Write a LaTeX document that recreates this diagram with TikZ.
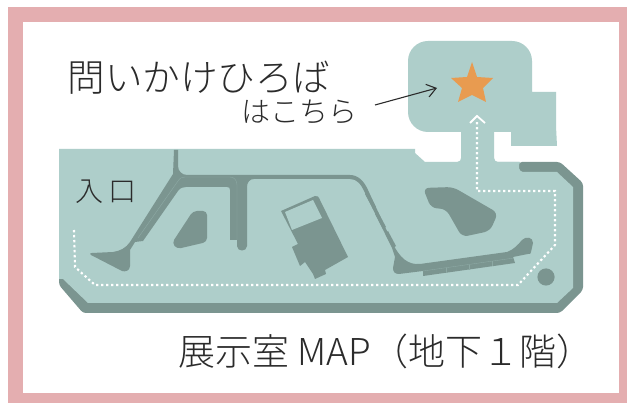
\documentclass[tikz,border=0pt]{standalone}
\usepackage{fontspec}
\usetikzlibrary{arrows.meta}
\newfontfamily\jp[UprightFont=* Light]{Noto Sans CJK JP}
\definecolor{framepink}{HTML}{E4AEB0}
\definecolor{floorc}{HTML}{AECECA}
\definecolor{wallc}{HTML}{7B9590}
\definecolor{starc}{HTML}{E89B50}
\definecolor{inkc}{HTML}{2B2B2B}
\tikzset{
  wallshape/.style={fill=wallc,draw=none},
  floorshape/.style={fill=floorc,draw=none},
  dotpath/.style={draw=white,line width=2.1pt,dash pattern=on 2.3pt off 2.7pt},
  seam/.style={draw=floorc!35!wallc,line width=0.4pt},
  label/.style={inner sep=0pt,text=inkc,font=\jp,anchor=center}
}
\begin{document}
\begin{tikzpicture}[x=1pt,y=-1pt]
\useasboundingbox (0,0) rectangle (627,403);
\fill[white] (0,0) rectangle (627,403);
\fill[framepink] (8,7) rectangle (627,403);
\fill[white] (23,22) rectangle (619,393);
% room
\fill[floorshape] (428,41) -- (512,41) arc[start angle=-90,end angle=0,radius=20] -- (532,92) -- (556,92) -- (556,126) -- (557,146) -- (511,146) -- (511,132) -- (494,132) -- (494,158) arc[start angle=180,end angle=90,radius=4] -- (520,162) -- (520,175) -- (461,175) -- (461,132) -- (428,132) arc[start angle=90,end angle=180,radius=20] -- (408,61) arc[start angle=180,end angle=270,radius=20] -- cycle;
% floor dark
\fill[wallshape,rounded corners=3pt] (59,275) -- (59,285) -- (83,313) -- (560,313) -- (583,290) -- (583,183) -- (560,162) -- (519,162) -- (519,172) -- (540,180) -- (540,290) -- (100,300) -- cycle;
% floor light
\fill[floorshape] (59,149) -- (415,149) -- (415,153) -- (425,162) -- (457,162) .. controls (460,162) and (461,160) .. (461,158) -- (494,158) -- (494,158) .. controls (494,161) and (495,162) .. (497,162) -- (519,162) -- (519,168) .. controls (519,170) and (521,172) .. (523,172) -- (557,172) -- (573,187) -- (573,288) -- (557,303) -- (88,303) -- (63,279) -- (59,279) -- cycle;
% walls
\fill[wallshape] (174,150) -- (178,150) -- (178,166) .. controls (178,171) and (182,175) .. (187,175) -- (350,175) .. controls (358,175) and (364,181) .. (368,190) -- (393,244) .. controls (400,258) and (408,265) .. (420,264) -- (507,252) .. controls (513,250) and (518,245) .. (522,240) .. controls (526,236) and (533,237) .. (533,243) -- (531,252) .. controls (531,254) and (530,254) .. (528,254) -- (513,257) -- (515,263) -- (423,276) -- (423,271) -- (399,274) .. controls (395,274) and (393,272) .. (393,268) -- (395,257) -- (392,248) -- (365,193) .. controls (361,184) and (357,179) .. (350,179) -- (254,179) .. controls (250,179) and (247,182) .. (247,187) -- (247,246) .. controls (247,252) and (237,252) .. (237,246) -- (237,240) -- (230,240) -- (230,190) .. controls (230,188) and (229,187) .. (227,187) -- (186,187) .. controls (183,187) and (180,188) .. (178,191) -- (143,241) -- (135,242) -- (130,250) -- (130,266) .. controls (130,271) and (125,272) .. (122,271) -- (91,255) .. controls (89,254) and (90,253) .. (92,253) -- (113,252) .. controls (120,251) and (126,248) .. (130,242) -- (173,174) -- cycle;
% diagonal blocks
\fill[wallshape] (365,194) -- (373,209) -- (376,207) -- (368,192) -- cycle;
\fill[wallshape] (375,214) -- (383,229) -- (386,227) -- (378,212) -- cycle;
\fill[wallshape] (385,233) -- (393,248) -- (396,246) -- (388,231) -- cycle;
% seams
\draw[seam] (138,238) -- (178,181) .. controls (180,178) and (182,177) .. (185,177) -- (230,177) .. controls (234,177) and (237,180) .. (237,185) -- (237,240);
\draw[seam] (423,271) -- (514,258);
\draw[seam] (446,268) -- (446,273) (469,265) -- (469,270) (492,261) -- (492,266);
% island
\fill[wallshape,rounded corners=4pt] (193,211) -- (207,211) -- (207,242) -- (177,249) -- (172,243) -- cycle;
% building
\fill[wallshape] (281,211) -- (315,196) .. controls (317,195) and (319,197) .. (320,200) -- (348,257) -- (325,270) -- (326,274) -- (315,279) -- (313,274) -- (305,262) -- (300,266) -- (292,247) -- (298,244) -- cycle;
\fill[floorshape] (285,212) -- (313,200) -- (322,218) -- (292,230) -- cycle;
% blob
\fill[wallshape,rounded corners=6pt] (423,188) -- (453,187) -- (498,213) -- (490,231) -- (462,237) -- (446,209) -- (431,208) -- cycle;
% circle
\fill[wallc] (546,277) circle[radius=8.6];
% dotted route
\draw[dotpath] (74,230) -- (75,267) -- (95,285) -- (518,285) -- (555,245) -- (555,191) -- (477,191) -- (477,122);
\draw[white,line width=1.8pt] (470,123) -- (477,116) -- (485,123);
% star
\fill[starc] (472,62) -- (477,77) -- (493,78) -- (483,88) -- (486,102) -- (472,95) -- (458,102) -- (462,88) -- (451,78) -- (467,77) -- cycle;
% texts
\node[label,font=\jp\fontsize{37.6}{37.6}\selectfont] (title) at (199,78) {問いかけひろば};
\node[label,font=\jp\fontsize{29}{29}\selectfont] (sub) at (299,112) {はこちら};
\node[label,font=\jp\fontsize{28}{28}\selectfont] (entry) at (106,192) {入\hspace{5pt}口};
\node[label,font=\jp\fontsize{37}{37}\selectfont] (cap) at (386,351) {展示室 MAP（地下１階）};
\coordinate (astart) at (375,105);
\coordinate (aend) at (437,88);
\draw[inkc,line width=1.1pt,-{Straight Barb[length=9pt,width=13pt]}] (astart) -- (aend);
\end{tikzpicture}
\end{document}
